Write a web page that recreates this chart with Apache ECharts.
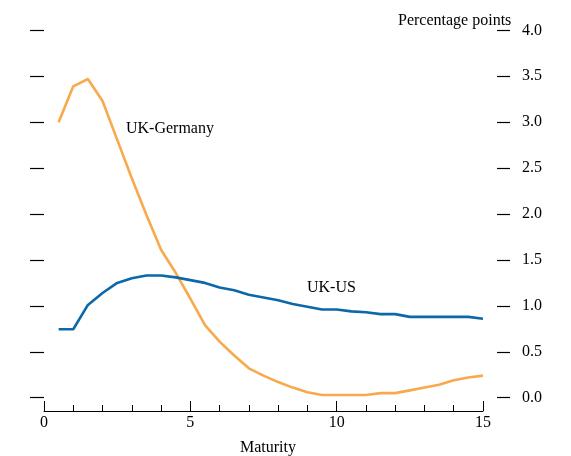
<!DOCTYPE html>
<html>
<head>
<meta charset="utf-8">
<script src="https://cdn.jsdelivr.net/npm/echarts@6/dist/echarts.min.js"></script>
<style>
html,body{margin:0;padding:0;background:#fff;}
#chart{width:571px;height:456px;}
</style>
</head>
<body>
<div id="chart"></div>
<script>
var maturities = [0.5,1,1.5,2,2.5,3,3.5,4,4.5,5,5.5,6,6.5,7,7.5,8,8.5,9,9.5,10,10.5,11,11.5,12,12.5,13,13.5,14,14.5,15];
var ukGermany = [3.00,3.39,3.47,3.23,2.81,2.39,1.99,1.61,1.36,1.08,0.79,0.61,0.46,0.32,0.24,0.17,0.11,0.06,0.03,0.03,0.03,0.03,0.05,0.05,0.08,0.11,0.14,0.19,0.22,0.24];
var ukUS = [0.745,0.745,1.01,1.14,1.25,1.30,1.33,1.33,1.31,1.28,1.25,1.20,1.17,1.12,1.09,1.06,1.02,0.99,0.96,0.96,0.94,0.93,0.91,0.91,0.88,0.88,0.88,0.88,0.88,0.86];
var seriesNames = ['UK-Germany','UK-US'];
var yTitle = 'Percentage points';
var xTitle = 'Maturity';

function pairs(xs, ys){ return xs.map(function(x,i){ return [x, ys[i]]; }); }

var font = 'Liberation Serif, Times New Roman, serif';
var chart = echarts.init(document.getElementById('chart'), null, {renderer:'canvas'});
chart.setOption({
  animation:false,
  backgroundColor:'#ffffff',
  textStyle:{fontFamily:font, color:'#000'},
  grid:{left:44, right:88, top:30.3, bottom:58.3, containLabel:false, outerBoundsMode:'none'},
  xAxis:{
    type:'value', min:0, max:15, interval:5, offset:13.3,
    name:xTitle, nameLocation:'middle', nameGap:29,
    nameTextStyle:{fontFamily:font, fontSize:16, color:'#000', padding:[0,0,0,9]},
    axisLine:{show:true, onZero:false, lineStyle:{color:'#000', width:1}},
    axisTick:{show:true, inside:true, length:10, lineStyle:{color:'#000', width:1}},
    minorTick:{show:true, splitNumber:5, length:6, lineStyle:{color:'#000', width:1}},
    axisLabel:{fontFamily:font, fontSize:16, color:'#000', margin:4},
    splitLine:{show:false}
  },
  yAxis:[
    {
      type:'value', min:0, max:4, interval:0.5, position:'left', offset:12,
      axisLine:{show:false},
      axisTick:{show:true, length:14, lineStyle:{color:'#000', width:1.2}},
      axisLabel:{show:false},
      splitLine:{show:false}
    },
    {
      type:'value', min:0, max:4, interval:0.5, position:'right', offset:14,
      axisLine:{show:false},
      axisTick:{show:true, length:13, lineStyle:{color:'#000', width:1.2}},
      axisLabel:{show:true, fontFamily:font, fontSize:16, color:'#000', margin:25,
        formatter:function(v){ return v.toFixed(1); }},
      splitLine:{show:false}
    }
  ],
  graphic:[
    {type:'text', left:398, top:13, style:{text:yTitle, font:'16px ' + font, fill:'#000'}},
    {type:'text', left:126, top:121, style:{text:seriesNames[0], font:'16px ' + font, fill:'#000'}},
    {type:'text', left:307, top:280, style:{text:seriesNames[1], font:'16px ' + font, fill:'#000'}}
  ],
  series:[
    {name:seriesNames[0], type:'line', yAxisIndex:1, data:pairs(maturities, ukGermany),
     showSymbol:false, lineStyle:{color:'#F8A94B', width:2.6}, itemStyle:{color:'#F8A94B'}},
    {name:seriesNames[1], type:'line', yAxisIndex:1, data:pairs(maturities, ukUS),
     showSymbol:false, lineStyle:{color:'#0B68A9', width:2.6}, itemStyle:{color:'#0B68A9'}}
  ]
});
</script>
</body>
</html>
